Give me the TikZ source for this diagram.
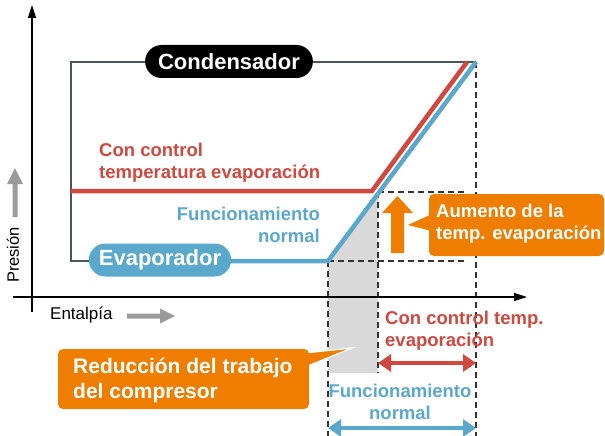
\documentclass[tikz,border=0pt]{standalone}
\usepackage{fontspec}
\setmainfont{Liberation Sans}
\usetikzlibrary{arrows.meta}
\definecolor{cred}{RGB}{209,72,63}
\definecolor{cblue}{RGB}{90,168,204}
\definecolor{corange}{RGB}{238,125,0}
\definecolor{cframe}{RGB}{74,85,94}
\definecolor{cgfill}{RGB}{217,217,217}
\definecolor{cgarrow}{RGB}{155,155,155}
\definecolor{cdash}{RGB}{51,51,51}
\tikzset{
  lbl/.style={inner sep=0pt, font=\fontsize{18.5}{22}\selectfont\bfseries},
  pill/.style={rounded corners=16.5pt, minimum height=33pt, inner ysep=0pt, text=white, font=\fontsize{22}{26}\selectfont\bfseries},
  dashln/.style={draw=cdash, line width=1.2pt, dash pattern=on 6pt off 4pt},
  axis/.style={draw=black, line width=1.2pt, -{Triangle[length=13pt,width=8pt]}},
  callout/.style={fill=corange, rounded corners=5pt},
  dbl/.style={line width=4pt, {Triangle[length=13pt,width=17pt]}-{Triangle[length=13pt,width=17pt]}}
}
\begin{document}
\begin{tikzpicture}[x=1pt,y=-1pt]
\useasboundingbox (0,0) rectangle (605,436);
% key points
\coordinate (bl) at (328,261);
\coordinate (bt) at (476,62);
\coordinate (rc) at (372,191);
\coordinate (rt) at (467,62);
\coordinate (fl) at (71,261);
\coordinate (ft) at (71,62);
\coordinate (fe) at (160,261);
\coordinate (rl) at (71,191);
\coordinate (gq) at (378,194);
\coordinate (gb) at (378,373);
\coordinate (gl) at (328,373);
\coordinate (db) at (328,436);
\coordinate (dr) at (476,436);
\coordinate (hr1) at (466,192);
\coordinate (hl1) at (378,192);
\coordinate (hr2) at (466,261);
% gray area
\fill[cgfill] (bl) -- (gq) -- (gb) -- (gl) -- cycle;
% dashed guides
\draw[dashln] (bl) -- (db);
\draw[dashln] (hl1) -- (gb);
\draw[dashln] (bt) -- (dr);
\draw[dashln] (hl1) -- (hr1);
\draw[dashln] (bl) -- (hr2);
% axes
\coordinate (ya0) at (32,312);
\coordinate (ya1) at (32,5);
\coordinate (xa0) at (13,297);
\coordinate (xa1) at (527,297);
\draw[axis] (ya0) -- (ya1);
\draw[axis] (xa0) -- (xa1);
% frame line (condenser / evaporator loop)
\draw[cframe, line width=2.6pt, line join=miter] (fe) -- (fl) -- (ft) -- (bt);
% red line
\draw[cred, line width=4.5pt, line join=miter] (rl) -- (rc) -- (rt);
% blue line
\draw[cblue, line width=4.5pt, line join=miter] (fe) -- (bl) -- (bt);
% pills
\node[pill, fill=black, inner xsep=13pt] (cond) at (229,61.5) {Condensador};
\node[pill, fill=cblue, inner xsep=10pt] (evap) at (160,260) {Evaporador};
% labels
\node[lbl, text=cred, anchor=west, align=left] (lred) at (99,163) {Con control\\temperatura evaporación};
\node[lbl, text=cblue, anchor=east, align=right] (lblue) at (320,225) {Funcionamiento\\normal};
% axis labels and gray arrows
\node[inner sep=0pt, rotate=90, font=\fontsize{16.5}{20}\selectfont] (pres) at (13,255) {Presión};
\node[inner sep=0pt, anchor=west, font=\fontsize{17}{20}\selectfont] (ent) at (50,315) {Entalpía};
\fill[cgarrow] (12.5,217) -- (17.5,217) -- (17.5,184) -- (23,184) -- (15,168) -- (7,184) -- (12.5,184) -- cycle;
\fill[cgarrow] (127,313.5) -- (160,313.5) -- (160,308.5) -- (175,316) -- (160,323.5) -- (160,318.5) -- (127,318.5) -- cycle;
% orange up arrow
\fill[corange] (391,253) -- (404,253) -- (404,213) -- (413,213) -- (397.5,196) -- (382,213) -- (391,213) -- cycle;
% callout aumento
\fill[corange] (432,214) -- (408,225) -- (432,231) -- cycle;
\fill[callout] (429,194) rectangle (604,256);
\node[lbl, text=white, anchor=west, align=left] (aum) at (436,224) {Aumento de la\\temp. evaporación};
% callout reduccion
\fill[corange, draw=white, line width=1.2pt, line join=miter] (305,353) -- (352,348) -- (305,367) -- cycle;
\fill[callout] (58,349) rectangle (309,409);
\node[inner sep=0pt, text=white, anchor=west, align=left, font=\fontsize{21}{25}\selectfont\bfseries] (red) at (73,380) {Reducción del trabajo\\del compresor};
% bottom dimension arrows
\coordinate (ra0) at (378,363);
\coordinate (ra1) at (476,363);
\coordinate (ba0) at (328,428);
\coordinate (ba1) at (476,428);
\draw[dbl, cred] (ra0) -- (ra1);
\draw[dbl, cblue] (ba0) -- (ba1);
\node[lbl, text=cred, anchor=west, align=left] (lred2) at (385,331) {Con control temp.\\evaporación};
\node[lbl, text=cblue, align=center] (lblue2) at (400,402) {Funcionamiento\\normal};
\end{tikzpicture}
\end{document}
